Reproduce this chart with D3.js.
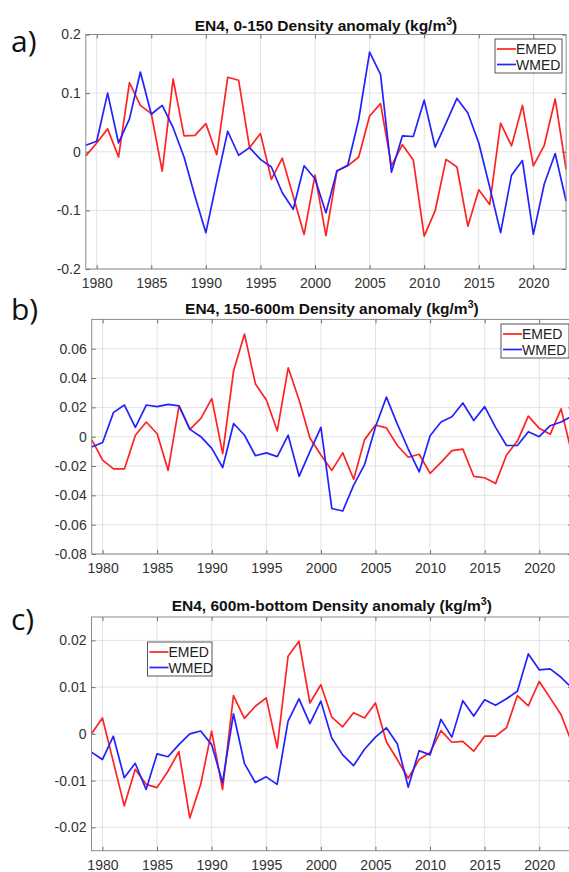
<!DOCTYPE html>
<html>
<head>
<meta charset="utf-8">
<script src="https://cdn.jsdelivr.net/npm/d3@7"></script>
<style>
  body { margin: 0; background: #fff; }
  svg { display: block; font-family: "Liberation Sans", Arial, sans-serif; }
</style>
</head>
<body>
<div class="chart"></div>
<script>
// years 1979..2023
var years = d3.range(1979, 2024);

// a) 0-150 m
var emedA = [-0.007, 0.015, 0.039, -0.009, 0.118, 0.079, 0.065, -0.033, 0.124, 0.027,
  0.028, 0.048, -0.005, 0.127, 0.122, 0.007, 0.031, -0.047, -0.011, -0.076,
  -0.141, -0.040, -0.143, -0.033, -0.024, -0.009, 0.061, 0.082, -0.024, 0.012,
  -0.014, -0.144, -0.101, -0.013, -0.026, -0.127, -0.065, -0.090, 0.049, 0.010,
  0.079, -0.024, 0.011, 0.090, -0.030];
var wmedA = [0.011, 0.018, 0.100, 0.015, 0.056, 0.136, 0.064, 0.079, 0.041, -0.009,
  -0.076, -0.138, -0.050, 0.035, -0.006, 0.007, -0.013, -0.026, -0.070, -0.098,
  -0.024, -0.046, -0.104, -0.033, -0.023, 0.055, 0.170, 0.132, -0.035, 0.027,
  0.026, 0.088, 0.008, 0.049, 0.091, 0.066, 0.015, -0.060, -0.138, -0.040,
  -0.015, -0.141, -0.055, -0.003, -0.084];

// b) 150-600 m
var emedB = [-0.002, -0.016, -0.022, -0.022, 0.001, 0.010, 0.002, -0.023, 0.021, 0.005,
  0.0125, 0.026, -0.0115, 0.045, 0.070, 0.036, 0.025, 0.004, 0.047, 0.025,
  -0.001, -0.0125, -0.023, -0.011, -0.029, -0.002, 0.008, 0.006, -0.006, -0.014,
  -0.012, -0.025, -0.0175, -0.0095, -0.0085, -0.027, -0.028, -0.032, -0.0125, -0.003,
  0.014, 0.0057, 0.0016, 0.019, -0.012];
var wmedB = [-0.007, -0.004, 0.0166, 0.0216, 0.0064, 0.0216, 0.0205, 0.022, 0.021, 0.005,
  0.0, -0.008, -0.021, 0.009, 0.001, -0.013, -0.011, -0.0136, 0.001, -0.027,
  -0.010, 0.0064, -0.049, -0.0507, -0.033, -0.019, 0.0068, 0.027, 0.0086, -0.0084,
  -0.024, 0.0007, 0.010, 0.0136, 0.023, 0.011, 0.0205, 0.0064, -0.006, -0.006,
  0.0034, 0.0, 0.0075, 0.010, 0.014];

// c) 600 m - bottom
var emedC = [0.0, 0.0034, -0.006, -0.0154, -0.0076, -0.0108, -0.0115, -0.008, -0.0038, -0.018,
  -0.0108, 0.0006, -0.0119, 0.0082, 0.0033, 0.0059, 0.0077, -0.003, 0.0166, 0.0198,
  0.0066, 0.0105, 0.0036, 0.0015, 0.0045, 0.0034, 0.0066, -0.0017, -0.0055, -0.0095,
  -0.0055, -0.004, 0.0007, -0.0018, -0.0016, -0.0037, -0.0005, -0.0005, 0.0013, 0.0082,
  0.006, 0.0112, 0.0077, 0.0041, -0.002];
var wmedC = [-0.0039, -0.0055, -0.0005, -0.0094, -0.0063, -0.0119, -0.0043, -0.0049, -0.0023, 0.0,
  0.0006, -0.0023, -0.0104, 0.0043, -0.0063, -0.0104, -0.0092, -0.0108, 0.0027, 0.0075,
  0.0022, 0.007, -0.0009, -0.0045, -0.0068, -0.0033, -0.0007, 0.0013, -0.0021, -0.0114,
  -0.0036, -0.0045, 0.0031, -0.0007, 0.0071, 0.0038, 0.0073, 0.0061, 0.0075, 0.0091,
  0.0171, 0.0137, 0.0139, 0.0121, 0.0098];

var xTicks = [1980, 1985, 1990, 1995, 2000, 2005, 2010, 2015, 2020];
var yTicksA = [-0.2, -0.1, 0, 0.1, 0.2];
var yTicksB = [-0.08, -0.06, -0.04, -0.02, 0, 0.02, 0.04, 0.06];
var yTicksC = [-0.02, -0.01, 0, 0.01, 0.02];
var seriesNames = ["EMED", "WMED"];
var seriesColors = ["#ff2222", "#2222ff"];

var panels = [
  {tag: "a)", title: "EN4, 0-150 Density anomaly (kg/m", emed: emedA, wmed: wmedA,
   yDomain: [-0.2, 0.2], yTicks: yTicksA,
   x0: 85.8, x1: 566.1, top: 34.5, bottom: 269, tagY: 52, titleY: 30.5,
   leg: {x: 495, y: 39, w: 67, h: 34}},
  {tag: "b)", title: "EN4, 150-600m Density anomaly (kg/m", emed: emedB, wmed: wmedB,
   yDomain: [-0.08, 0.08], yTicks: yTicksB,
   x0: 91.7, x1: 572, top: 319.4, bottom: 554, tagY: 320, titleY: 314,
   leg: {x: 501, y: 324, w: 68, h: 34}},
  {tag: "c)", title: "EN4, 600m-bottom Density anomaly (kg/m", emed: emedC, wmed: wmedC,
   yDomain: [-0.025, 0.025], yTicks: yTicksC,
   x0: 91.5, x1: 572, top: 617, bottom: 850.7, tagY: 629.5, titleY: 611,
   leg: {x: 147.5, y: 642, w: 64.5, h: 34}}
];

var w = 569, h = 872;
var svg = d3.select(".chart").append("svg").attr("width", w).attr("height", h);

function fmt(d) { return d === 0 ? "0" : String(+d.toFixed(3)); }

panels.forEach(function(p) {
  var x = d3.scaleLinear().domain([1979, 2023]).range([p.x0, p.x1]);
  var y = d3.scaleLinear().domain(p.yDomain).range([p.bottom, p.top]);
  var g = svg.append("g");
  var pw = p.x1 - p.x0, ph = p.bottom - p.top;

  // grid
  g.selectAll(".gx").data(xTicks).enter().append("line")
    .attr("x1", d => x(d)).attr("x2", d => x(d))
    .attr("y1", p.top).attr("y2", p.bottom)
    .attr("stroke", "#e3e3e3").attr("stroke-width", 1);
  g.selectAll(".gy").data(p.yTicks).enter().append("line")
    .attr("x1", p.x0).attr("x2", p.x1)
    .attr("y1", d => y(d)).attr("y2", d => y(d))
    .attr("stroke", "#e3e3e3").attr("stroke-width", 1);

  // series
  var line = d3.line().x((d, i) => x(years[i])).y(d => y(d));
  [p.emed, p.wmed].forEach(function(vals, k) {
    g.append("path").datum(vals)
      .attr("d", line).attr("fill", "none")
      .attr("stroke", seriesColors[k]).attr("stroke-width", 1.7)
      .attr("stroke-linejoin", "round");
  });

  // box
  g.append("rect").attr("x", p.x0).attr("y", p.top)
    .attr("width", pw).attr("height", ph)
    .attr("fill", "none").attr("stroke", "#8c8c8c").attr("stroke-width", 1);

  // axes (ticks inward)
  var xb = g.append("g").attr("transform", "translate(0," + p.bottom + ")")
    .call(d3.axisBottom(x).tickValues(xTicks).tickFormat(d3.format("d"))
      .tickSizeInner(-4).tickSizeOuter(0).tickPadding(9));
  var xt = g.append("g").attr("transform", "translate(0," + p.top + ")")
    .call(d3.axisTop(x).tickValues(xTicks).tickFormat("").tickSizeInner(-4).tickSizeOuter(0));
  var yl = g.append("g").attr("transform", "translate(" + p.x0 + ",0)")
    .call(d3.axisLeft(y).tickValues(p.yTicks).tickFormat(fmt)
      .tickSizeInner(-4).tickSizeOuter(0).tickPadding(5));
  var yr = g.append("g").attr("transform", "translate(" + p.x1 + ",0)")
    .call(d3.axisRight(y).tickValues(p.yTicks).tickFormat("").tickSizeInner(-4).tickSizeOuter(0));
  [xb, xt, yl, yr].forEach(function(a) {
    a.select(".domain").remove();
    a.selectAll(".tick line").attr("stroke", "#6e6e6e");
    a.selectAll("text").attr("fill", "#333").style("font-size", "14px")
      .style("font-family", "'Liberation Sans', Arial, sans-serif");
  });

  // title
  var t = svg.append("text")
    .attr("x", (p.x0 + p.x1) / 2).attr("y", p.titleY)
    .attr("text-anchor", "middle").attr("font-weight", "bold")
    .attr("font-size", 15.5).attr("fill", "#111").text(p.title);
  t.append("tspan").attr("font-size", 10.5).attr("dy", -6).text("3");
  t.append("tspan").attr("dy", 6).text(")");

  // panel tag
  svg.append("text").attr("x", 11).attr("y", p.tagY)
    .attr("font-family", "'Open Sans', 'DejaVu Sans', sans-serif")
    .attr("font-size", 30).attr("fill", "#111").text(p.tag);

  // legend
  var lg = svg.append("g").attr("transform", "translate(" + p.leg.x + "," + p.leg.y + ")");
  lg.append("rect").attr("width", p.leg.w).attr("height", p.leg.h)
    .attr("fill", "#fff").attr("stroke", "#555").attr("stroke-width", 1);
  seriesNames.forEach(function(n, k) {
    var ly = 10 + k * 15.5;
    lg.append("line").attr("x1", 2).attr("x2", 21).attr("y1", ly).attr("y2", ly)
      .attr("stroke", seriesColors[k]).attr("stroke-width", 1.7);
    lg.append("text").attr("x", 21).attr("y", ly + 5)
      .attr("font-size", 14).attr("fill", "#222").text(n);
  });
});
</script>
</body>
</html>
